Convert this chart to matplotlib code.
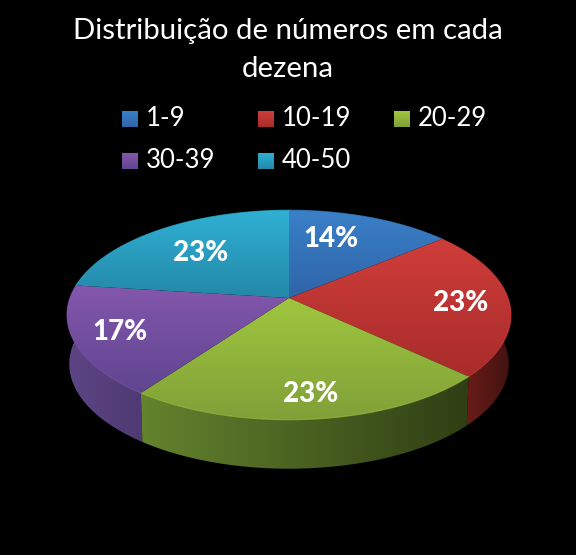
import numpy as np
import matplotlib
matplotlib.use("Agg")
import matplotlib.pyplot as plt
from matplotlib.patches import Polygon, Rectangle
from matplotlib.colors import LinearSegmentedColormap

plt.rcParams['font.family'] = ['Lato', 'DejaVu Sans']

title = "Distribuição de números em cada\ndezena"
categories = ["1-9", "10-19", "20-29", "30-39", "40-50"]
values = [14, 23, 23, 17, 23]
labels = ["14%", "23%", "23%", "17%", "23%"]
top_light = ["#3a80c8", "#cf3d3a", "#a0c63f", "#8457ad", "#2fb0d4"]
top_dark = ["#2f64a8", "#a82c2a", "#80a038", "#5f4590", "#2488a8"]
side_light = ["#2a5a90", "#6a1c18", "#64832e", "#5d4585", "#1d7088"]
side_dark = ["#234a78", "#3f1210", "#2f3f14", "#4f3a72", "#1d7088"]

# pie geometry in pixels (y down), with a bit of perspective
cx, cy = 289, 298
ax_r, by_r, k = 219, 102, 0.162
depth = 49

# where the labels sit: radius and shift along the wedge, per slice
label_r = [0.67, 0.78, 0.82, 0.80, 0.64]
label_shift = [-0.12, 0.03, -0.01, 0.0, -0.02]


def project(theta, r=1.0):
    u = r * np.sin(theta)
    v = -r * np.cos(theta)
    w = 1 - k * v
    return cx + ax_r * u / w, cy + by_r * v / w


def grad(ax, patch, c1, c2, extent, vertical=True):
    cmap = LinearSegmentedColormap.from_list("g", [c1, c2])
    z = np.linspace(0, 1, 128)
    z = z[:, None] if vertical else z[None, :]
    im = ax.imshow(z, cmap=cmap, extent=extent, aspect="auto", zorder=patch.get_zorder())
    im.set_clip_path(patch)


fig = plt.figure(figsize=(5.76, 5.55), dpi=100, facecolor="black")
ax = fig.add_axes([0, 0, 1, 1])
ax.set_facecolor("black")

edges = np.cumsum([0] + values) / sum(values) * 2 * np.pi

# sides first, only the part facing the viewer
for i in [4, 0, 3, 1, 2]:
    a0, a1 = edges[i], edges[i + 1]
    a0v, a1v = max(a0, np.pi / 2 - 0.12), min(a1, 3 * np.pi / 2 + 0.12)
    if a1v <= a0v:
        continue
    t = np.linspace(a0v, a1v, 80)
    xs, ys = project(t)
    xb = cx + (xs - cx) * 0.99
    poly = Polygon(np.r_[np.c_[xs, ys], np.c_[xb, ys + depth][::-1]], closed=True,
                   fc="none", ec="none", zorder=2)
    ax.add_patch(poly)
    xmin, xmax = min(xs.min(), xb.min()), max(xs.max(), xb.max())
    grad(ax, poly, side_light[i], side_dark[i], (xmin, xmax, ys.max() + depth, ys.min()), vertical=False)

# top face
for i in range(len(values)):
    t = np.linspace(edges[i], edges[i + 1], 100)
    xs, ys = project(t)
    pts = np.r_[[[cx, cy]], np.c_[xs, ys]]
    poly = Polygon(pts, closed=True, fc="none", ec="none", zorder=3)
    ax.add_patch(poly)
    grad(ax, poly, top_light[i], top_dark[i], (pts[:, 0].min(), pts[:, 0].max(), pts[:, 1].max(), pts[:, 1].min()))
    ax.plot(xs, ys, color=top_light[i], lw=0.8, alpha=0.7, zorder=4)

    mid = (edges[i] + edges[i + 1]) / 2 + label_shift[i]
    lx, ly = project(mid, label_r[i])
    ax.text(lx, ly, labels[i], color="white", fontsize=20, fontweight="black",
            ha="center", va="center", zorder=5)

ax.text(288, 50, title, color="white", fontsize=21.2, ha="center", va="center", linespacing=1.6)

# legend, laid out by rows like the original
legend_x = [122, 258, 394]
legend_y = [119, 161]
for i, name in enumerate(categories):
    x = legend_x[i % 3]
    y = legend_y[i // 3]
    sq = Rectangle((x, y - 8), 16, 16, fc="none", ec="none", zorder=3)
    ax.add_patch(sq)
    grad(ax, sq, top_light[i], top_dark[i], (x, x + 16, y + 8, y - 8))
    ax.text(x + 24, y, name, color="white", fontsize=18.5, ha="left", va="center")

ax.set_xlim(0, 576)
ax.set_ylim(555, 0)
ax.axis("off")
fig.savefig("out.png", dpi=100, facecolor="black")
